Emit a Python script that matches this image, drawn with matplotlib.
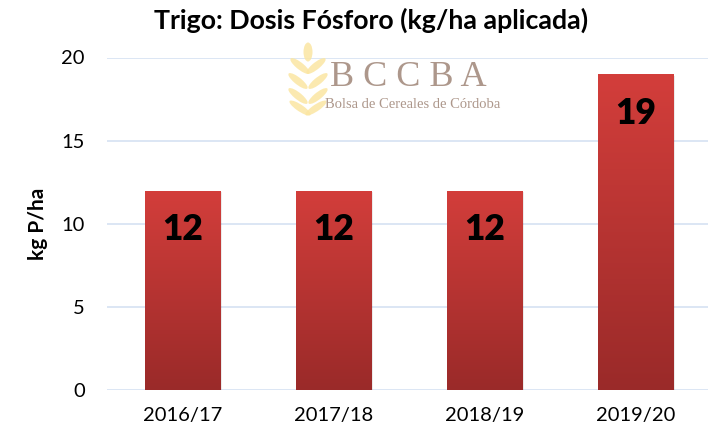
import numpy as np
import matplotlib.pyplot as plt
from matplotlib.patches import Ellipse
from matplotlib.colors import LinearSegmentedColormap

categories = ["2016/17", "2017/18", "2018/19", "2019/20"]
values = [12, 12, 12, 19]
yticks = [0, 5, 10, 15, 20]
title = "Trigo: Dosis Fósforo (kg/ha aplicada)"
ylabel = "kg P/ha"

plt.rcParams['font.family'] = ['Lato', 'DejaVu Sans']

W, H = 708, 433
fig = plt.figure(figsize=(W / 100, H / 100), dpi=100)
ax = fig.add_axes([107 / W, 43 / H, 601 / W, 332.5 / H])

x = np.arange(len(categories))
bars = ax.bar(x, values, width=0.503, color='none', zorder=3)
cmap = LinearSegmentedColormap.from_list('g', ['#9a2a29', '#d33e3b'])
grad = np.linspace(0, 1, 256).reshape(-1, 1)
for b in bars:
    x0, w, h = b.get_x(), b.get_width(), b.get_height()
    ax.bar(x0 + w / 2 + 0.012, h, width=w, bottom=-0.12, color='#000000', alpha=0.08, zorder=2.5)
    im = ax.imshow(grad, extent=[x0, x0 + w, 0, h], origin='lower', aspect='auto',
                   cmap=cmap, zorder=3)
    im.set_clip_path(b)

for xi, v in zip(x, values):
    ax.text(xi, v - 39 / 16.6, str(v), ha='center', va='center', fontsize=25.5,
            fontweight='heavy', color='black', zorder=5)

ax.set_xlim(-0.5, 3.48)
ax.set_ylim(0, 20)
ax.set_yticks(yticks)
ax.set_xticks(x)
ax.set_xticklabels(categories)
ax.tick_params(axis='both', length=0, labelsize=14.5, colors='black')
ax.tick_params(axis='y', pad=16)
ax.tick_params(axis='x', pad=12)
ax.grid(axis='y', color='#d6e1f2', linewidth=1.2, zorder=0)
ax.set_axisbelow(True)
for s in ax.spines.values():
    s.set_visible(False)

ax.set_ylabel(ylabel, fontsize=15, fontweight='bold')
ax.yaxis.set_label_coords(-(107 - 48) / 601, 0.5)

fig.text(371 / W, 1 - 20 / H, title, ha='center', va='center', fontsize=19.3, fontweight='bold')

# watermark logo
leaves = [(308, 52, 0), (300, 66, 35), (316, 66, -35), (298, 81, 35), (318, 81, -35),
          (298, 96, 35), (318, 96, -35), (300, 108, 40), (316, 108, -40)]
for cx, cy, ang in leaves:
    e = Ellipse((cx / W, 1 - cy / H), 9 / W, 19 / H, angle=ang, transform=fig.transFigure,
                facecolor='#fbe6a2', edgecolor='none', alpha=0.85, zorder=10)
    fig.patches.append(e)
fig.text(408 / W, 1 - 77 / H, "B C C B A", ha='center', va='center', fontsize=26,
         family='Liberation Serif', color='#ad978b', zorder=11)
fig.text(413 / W, 1 - 104 / H, "Bolsa de Cereales de Córdoba", ha='center', va='center',
         fontsize=10.5, family='Liberation Serif', color='#ad978b', zorder=11)

fig.savefig('out.png', dpi=100)
